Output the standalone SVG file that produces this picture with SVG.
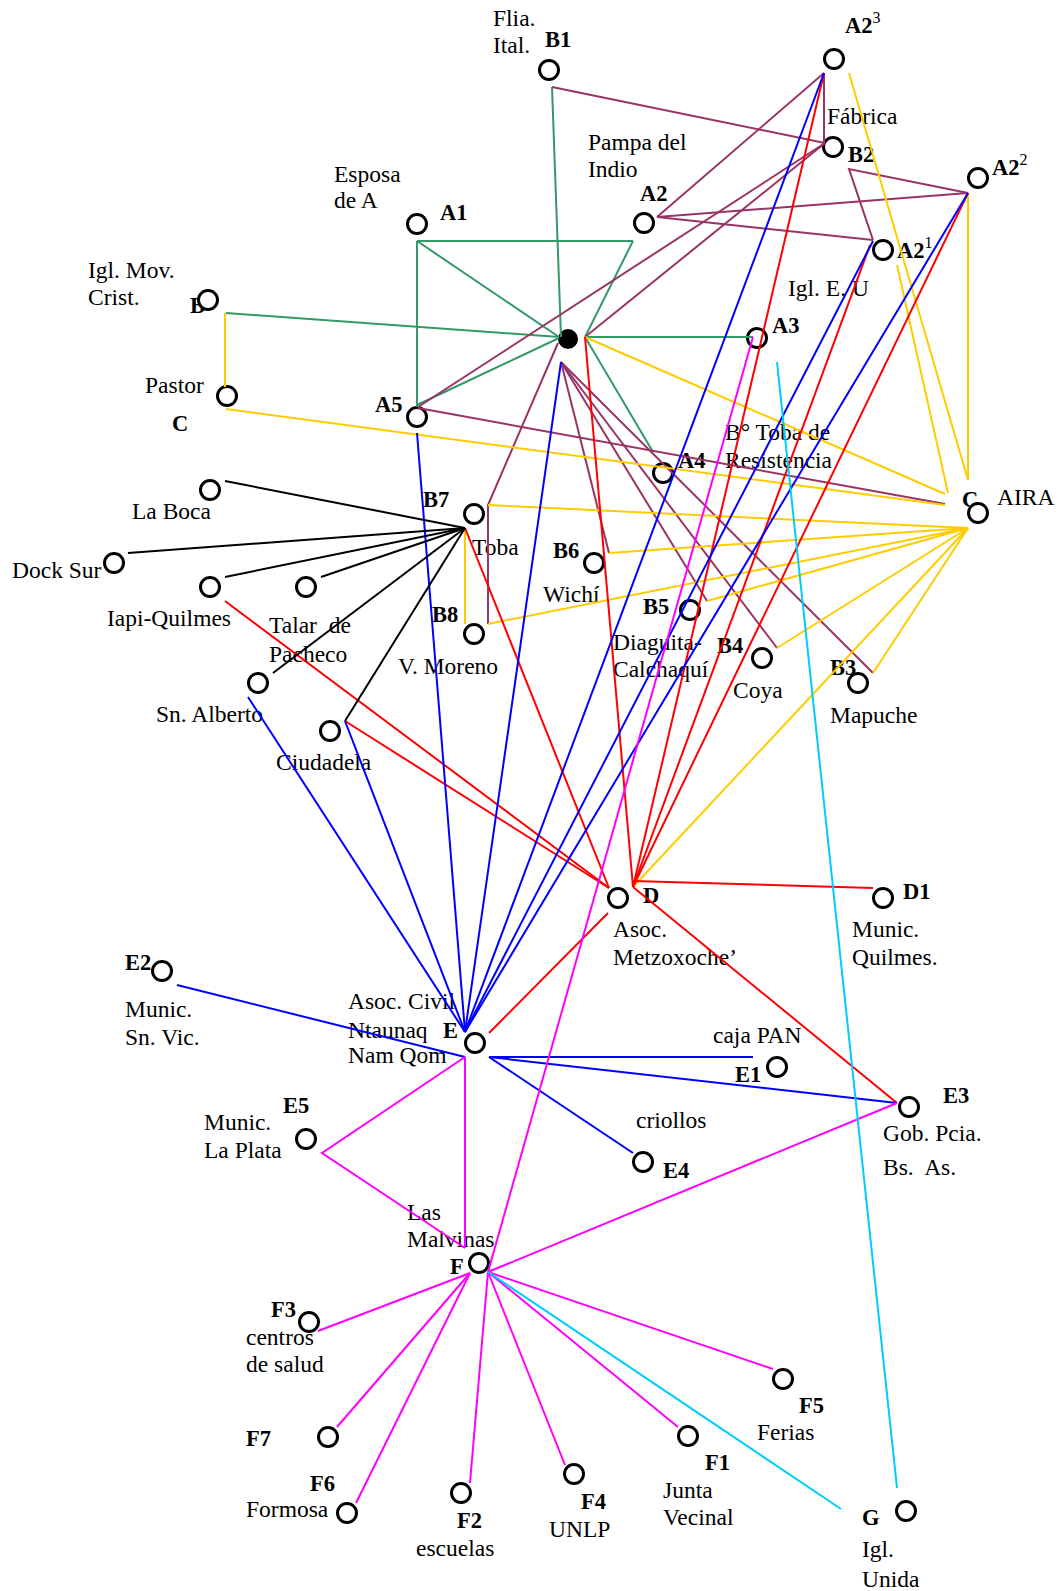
<svg xmlns="http://www.w3.org/2000/svg" width="1057" height="1591" viewBox="0 0 1057 1591">
<style>
  text { font-family: "Liberation Serif", "Times New Roman", serif; font-size: 23.5px; fill: #000; }
  text.id { font-weight: bold; font-size: 22.5px; }
  tspan.sup { font-size: 16px; font-weight: normal; }
  .node circle { fill: #fff; stroke: #000; stroke-width: 3; }
  #ego circle { fill: #000; stroke: none; }
  #connectors line, #connectors polyline { fill: none; stroke-width: 2; }
  .g { stroke: #339966; }
  .p { stroke: #993366; }
  .y { stroke: #FFCC00; }
  .r { stroke: #FF0000; }
  .b { stroke: #0000FF; }
  .m { stroke: #FF00FF; }
  .c { stroke: #00CCFF; }
  .k { stroke: #000000; }
</style>
<rect width="1057" height="1591" fill="#fff"/>

<g id="nodes">
  <g id="ego" class="node"><circle cx="568" cy="339" r="10"/></g>
  <g id="B1" class="node"><text x="493" y="26">Flia.</text><text x="493" y="53">Ital.</text><text class="id" x="545" y="47">B1</text><circle cx="549" cy="70" r="9.5"/></g>
  <g id="A1" class="node"><text x="334" y="182">Esposa</text><text x="334" y="208">de A</text><text class="id" x="440" y="220">A1</text><circle cx="417" cy="224" r="9.5"/></g>
  <g id="A2" class="node"><text x="588" y="150">Pampa del</text><text x="588" y="177">Indio</text><text class="id" x="640" y="201">A2</text><circle cx="644" cy="223" r="9.5"/></g>
  <g id="A2-3" class="node"><text class="id" x="845" y="33">A2<tspan class="sup" dy="-10">3</tspan></text><circle cx="834" cy="59" r="9.5"/></g>
  <g id="B2" class="node"><text x="827" y="124">Fábrica</text><text class="id" x="848" y="162">B2</text><circle cx="833" cy="147" r="9.5"/></g>
  <g id="A2-2" class="node"><text class="id" x="992" y="175">A2<tspan class="sup" dy="-10">2</tspan></text><circle cx="978" cy="178" r="9.5"/></g>
  <g id="A2-1" class="node"><text class="id" x="897" y="258">A2<tspan class="sup" dy="-10">1</tspan></text><circle cx="883" cy="250" r="9.5"/></g>
  <g id="A3" class="node"><text x="788" y="296">Igl. E. U</text><text class="id" x="772" y="333">A3</text><circle cx="757" cy="338" r="9.5"/></g>
  <g id="B" class="node"><text x="88" y="278">Igl. Mov.</text><text x="88" y="305">Crist.</text><text class="id" x="190" y="313">B</text><circle cx="208" cy="300" r="9.5"/></g>
  <g id="C-pastor" class="node"><text x="145" y="393">Pastor</text><text class="id" x="172" y="431">C</text><circle cx="227" cy="396" r="9.5"/></g>
  <g id="A5" class="node"><text class="id" x="375" y="412">A5</text><circle cx="417" cy="417" r="9.5"/></g>
  <g id="A4" class="node"><text x="725" y="440">B° Toba de</text><text x="725" y="468">Resistencia</text><text class="id" x="678" y="468">A4</text><circle cx="663" cy="473" r="9.5"/></g>
  <g id="C" class="node"><text class="id" x="962" y="507">C</text><text x="997" y="505">AIRA</text><circle cx="978" cy="513" r="9.5"/></g>
  <g id="la-boca" class="node"><text x="132" y="519">La Boca</text><circle cx="210" cy="490" r="9.5"/></g>
  <g id="dock-sur" class="node"><text x="12" y="578">Dock Sur</text><circle cx="114" cy="563" r="9.5"/></g>
  <g id="iapi-quilmes" class="node"><text x="107" y="626">Iapi-Quilmes</text><circle cx="210" cy="587" r="9.5"/></g>
  <g id="talar" class="node"><text x="269" y="633" xml:space="preserve">Talar  de</text><text x="269" y="662">Pacheco</text><circle cx="306" cy="587" r="9.5"/></g>
  <g id="sn-alberto" class="node"><text x="156" y="722">Sn. Alberto</text><circle cx="258" cy="683" r="9.5"/></g>
  <g id="ciudadela" class="node"><text x="276" y="770">Ciudadela</text><circle cx="330" cy="731" r="9.5"/></g>
  <g id="B7" class="node"><text class="id" x="423" y="507">B7</text><text x="472" y="555">Toba</text><circle cx="474" cy="514" r="9.5"/></g>
  <g id="B8" class="node"><text class="id" x="432" y="622">B8</text><text x="398" y="674">V. Moreno</text><circle cx="474" cy="634" r="9.5"/></g>
  <g id="B6" class="node"><text class="id" x="553" y="558">B6</text><text x="543" y="602">Wichí</text><circle cx="594" cy="563" r="9.5"/></g>
  <g id="B5" class="node"><text class="id" x="643" y="614">B5</text><text x="613" y="650">Diaguita-</text><text x="613" y="677">Calchaquí</text><circle cx="690" cy="610" r="9.5"/></g>
  <g id="B4" class="node"><text class="id" x="717" y="653">B4</text><text x="733" y="698">Coya</text><circle cx="762" cy="658" r="9.5"/></g>
  <g id="B3" class="node"><text class="id" x="830" y="675">B3</text><text x="830" y="723">Mapuche</text><circle cx="858" cy="683" r="9.5"/></g>
  <g id="D" class="node"><text class="id" x="643" y="903">D</text><text x="613" y="937">Asoc.</text><text x="613" y="965">Metzoxoche’</text><circle cx="618" cy="898" r="9.5"/></g>
  <g id="D1" class="node"><text class="id" x="903" y="899">D1</text><text x="852" y="937">Munic.</text><text x="852" y="965">Quilmes.</text><circle cx="883" cy="898" r="9.5"/></g>
  <g id="E" class="node"><text x="348" y="1009">Asoc. Civil</text><text x="348" y="1038">Ntaunaq</text><text x="348" y="1063">Nam Qom</text><text class="id" x="443" y="1038">E</text><circle cx="475" cy="1043" r="9.5"/></g>
  <g id="E2" class="node"><text class="id" x="125" y="970">E2</text><text x="125" y="1017">Munic.</text><text x="125" y="1045">Sn. Vic.</text><circle cx="162" cy="971" r="9.5"/></g>
  <g id="E1" class="node"><text x="713" y="1043">caja PAN</text><text class="id" x="735" y="1082">E1</text><circle cx="777" cy="1067" r="9.5"/></g>
  <g id="E3" class="node"><text class="id" x="943" y="1103">E3</text><text x="883" y="1141">Gob. Pcia.</text><text x="883" y="1175" xml:space="preserve">Bs.  As.</text><circle cx="909" cy="1107" r="9.5"/></g>
  <g id="E4" class="node"><text x="636" y="1128">criollos</text><text class="id" x="663" y="1178">E4</text><circle cx="643" cy="1162" r="9.5"/></g>
  <g id="E5" class="node"><text class="id" x="283" y="1113">E5</text><text x="204" y="1130">Munic.</text><text x="204" y="1158">La Plata</text><circle cx="306" cy="1139" r="9.5"/></g>
  <g id="F" class="node"><text x="407" y="1220">Las</text><text x="407" y="1247">Malvinas</text><text class="id" x="450" y="1274">F</text><circle cx="479" cy="1263" r="9.5"/></g>
  <g id="F3" class="node"><text class="id" x="271" y="1317">F3</text><text x="246" y="1345">centros</text><text x="246" y="1372">de salud</text><circle cx="309" cy="1322" r="9.5"/></g>
  <g id="F7" class="node"><text class="id" x="246" y="1446">F7</text><circle cx="328" cy="1437" r="9.5"/></g>
  <g id="F6" class="node"><text class="id" x="310" y="1491">F6</text><text x="246" y="1517">Formosa</text><circle cx="347" cy="1513" r="9.5"/></g>
  <g id="F2" class="node"><text class="id" x="457" y="1528">F2</text><text x="416" y="1556">escuelas</text><circle cx="461" cy="1493" r="9.5"/></g>
  <g id="F4" class="node"><text class="id" x="581" y="1509">F4</text><text x="549" y="1537">UNLP</text><circle cx="574" cy="1474" r="9.5"/></g>
  <g id="F1" class="node"><text class="id" x="705" y="1470">F1</text><text x="663" y="1498">Junta</text><text x="663" y="1525">Vecinal</text><circle cx="688" cy="1436" r="9.5"/></g>
  <g id="F5" class="node"><text class="id" x="799" y="1413">F5</text><text x="757" y="1440">Ferias</text><circle cx="783" cy="1379" r="9.5"/></g>
  <g id="G" class="node"><text class="id" x="862" y="1525">G</text><text x="862" y="1557">Igl.</text><text x="862" y="1587">Unida</text><circle cx="906" cy="1511" r="9.5"/></g>
</g>

<g id="connectors">
  <!-- green -->
  <line class="g" x1="417" y1="241" x2="633" y2="241"/>
  <line class="g" x1="633" y1="241" x2="585" y2="337"/>
  <line class="g" x1="417" y1="241" x2="417" y2="407"/>
  <line class="g" x1="417" y1="241" x2="559" y2="337"/>
  <line class="g" x1="552" y1="87" x2="561" y2="337"/>
  <line class="g" x1="226" y1="313" x2="559" y2="337"/>
  <line class="g" x1="585" y1="337" x2="753" y2="337"/>
  <line class="g" x1="559" y1="338" x2="417" y2="405"/>
  <line class="g" x1="585" y1="337" x2="653" y2="452"/>
  <!-- purple -->
  <line class="p" x1="552" y1="87" x2="825" y2="143"/>
  <line class="p" x1="824" y1="73" x2="824" y2="143"/>
  <line class="p" x1="418" y1="407" x2="825" y2="143"/>
  <line class="p" x1="585" y1="337" x2="825" y2="143"/>
  <line class="p" x1="657" y1="217" x2="824" y2="73"/>
  <line class="p" x1="657" y1="217" x2="968" y2="193"/>
  <line class="p" x1="657" y1="217" x2="873" y2="240"/>
  <polyline class="p" points="968,193 849,169 873,240"/>
  <line class="p" x1="418" y1="408" x2="945" y2="504"/>
  <polyline class="p" points="558,343 488,505 488,624"/>
  <line class="p" x1="561" y1="362" x2="609" y2="553"/>
  <line class="p" x1="561" y1="362" x2="707" y2="601"/>
  <line class="p" x1="561" y1="362" x2="777" y2="648"/>
  <line class="p" x1="561" y1="362" x2="873" y2="673"/>
  <!-- yellow -->
  <line class="y" x1="225" y1="313" x2="225" y2="387"/>
  <line class="y" x1="226" y1="409" x2="945" y2="505"/>
  <line class="y" x1="585" y1="337" x2="945" y2="494"/>
  <line class="y" x1="849" y1="73" x2="968" y2="480"/>
  <line class="y" x1="968" y1="193" x2="968" y2="480"/>
  <line class="y" x1="897" y1="265" x2="948" y2="493"/>
  <line class="y" x1="465" y1="528" x2="465" y2="624"/>
  <line class="y" x1="968" y1="528" x2="488" y2="505"/>
  <line class="y" x1="968" y1="528" x2="609" y2="553"/>
  <line class="y" x1="968" y1="528" x2="488" y2="624"/>
  <line class="y" x1="968" y1="528" x2="707" y2="601"/>
  <line class="y" x1="968" y1="528" x2="777" y2="648"/>
  <line class="y" x1="968" y1="528" x2="873" y2="673"/>
  <line class="y" x1="968" y1="528" x2="633" y2="887"/>
  <!-- red -->
  <line class="r" x1="585" y1="337" x2="633" y2="887"/>
  <line class="r" x1="824" y1="73" x2="633" y2="887"/>
  <line class="r" x1="870" y1="245" x2="633" y2="887"/>
  <line class="r" x1="968" y1="193" x2="633" y2="887"/>
  <line class="r" x1="633" y1="881" x2="873" y2="888"/>
  <line class="r" x1="633" y1="887" x2="897" y2="1103"/>
  <line class="r" x1="225" y1="601" x2="609" y2="888"/>
  <line class="r" x1="345" y1="721" x2="609" y2="888"/>
  <line class="r" x1="465" y1="528" x2="609" y2="888"/>
  <line class="r" x1="608" y1="913" x2="489" y2="1033"/>
  <!-- blue -->
  <line class="b" x1="417" y1="433" x2="465" y2="1032"/>
  <line class="b" x1="561" y1="362" x2="465" y2="1032"/>
  <line class="b" x1="248" y1="697" x2="465" y2="1032"/>
  <line class="b" x1="345" y1="721" x2="465" y2="1032"/>
  <line class="b" x1="824" y1="73" x2="465" y2="1032"/>
  <line class="b" x1="873" y1="241" x2="465" y2="1032"/>
  <line class="b" x1="968" y1="193" x2="465" y2="1032"/>
  <line class="b" x1="177" y1="985" x2="465" y2="1057"/>
  <line class="b" x1="489" y1="1057" x2="753" y2="1057"/>
  <line class="b" x1="489" y1="1057" x2="897" y2="1103"/>
  <line class="b" x1="489" y1="1057" x2="633" y2="1153"/>
  <!-- magenta -->
  <line class="m" x1="753" y1="337" x2="488" y2="1272"/>
  <line class="m" x1="465" y1="1057" x2="465" y2="1248"/>
  <polyline class="m" points="465,1057 322,1153 465,1248"/>
  <line class="m" x1="488" y1="1272" x2="897" y2="1103"/>
  <line class="m" x1="470" y1="1273" x2="318" y2="1331"/>
  <line class="m" x1="470" y1="1273" x2="337" y2="1427"/>
  <line class="m" x1="470" y1="1273" x2="356" y2="1503"/>
  <line class="m" x1="488" y1="1272" x2="470" y2="1483"/>
  <line class="m" x1="488" y1="1272" x2="565" y2="1465"/>
  <line class="m" x1="488" y1="1272" x2="678" y2="1427"/>
  <line class="m" x1="488" y1="1272" x2="773" y2="1369"/>
  <!-- cyan -->
  <line class="c" x1="777" y1="362" x2="897" y2="1488"/>
  <line class="c" x1="488" y1="1272" x2="841" y2="1509"/>
  <!-- black -->
  <line class="k" x1="225" y1="481" x2="465" y2="528"/>
  <line class="k" x1="128" y1="553" x2="465" y2="528"/>
  <line class="k" x1="225" y1="577" x2="465" y2="528"/>
  <line class="k" x1="321" y1="577" x2="465" y2="528"/>
  <line class="k" x1="273" y1="673" x2="465" y2="528"/>
  <line class="k" x1="345" y1="721" x2="465" y2="528"/>
</g>
</svg>
